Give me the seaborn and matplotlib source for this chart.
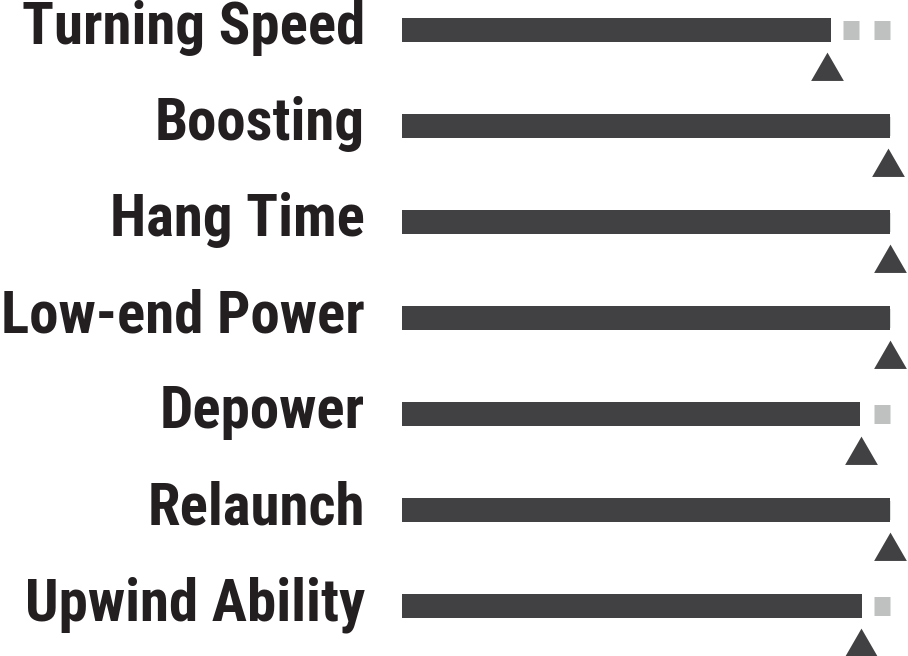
import numpy as np
import pandas as pd
import matplotlib
matplotlib.use("Agg")
import matplotlib.pyplot as plt
from matplotlib import font_manager
import seaborn as sns

# ratings out of 10: bar value and marker (triangle) value
CATEGORIES = ["Turning Speed", "Boosting", "Hang Time", "Low-end Power",
              "Depower", "Relaunch", "Upwind Ability"]
BAR_VALUES = [8.8, 10.0, 10.0, 10.0, 9.38, 10.0, 9.42]
MARKER_VALUES = [8.7, 9.95, 10.0, 10.0, 9.4, 10.0, 9.4]
SCALE_MAX = 10

DARK = "#414042"
LIGHT = "#bfc1c0"
TEXT = "#231f20"

sns.set_style("white")
plt.rcParams["lines.scale_dashes"] = False

# narrowest bold sans that is installed
installed = {f.name for f in font_manager.fontManager.ttflist}
LABEL_FONT = "Liberation Sans"
for cand in ["Roboto Condensed", "Liberation Sans Narrow", "Open Sans Condensed"]:
    if cand in installed:
        LABEL_FONT = cand
        break

W, H, DPI = 908, 656, 100
fig = plt.figure(figsize=(W / DPI, H / DPI), dpi=DPI)

# axes: x=0 at 402px, x=10 at 890px ; rows 96px apart, first row centre at 30px
x0, x10 = 402, 890
px_per_unit = (x10 - x0) / SCALE_MAX
ax = fig.add_axes([x0 / W, 0, (W - x0) / W, 1])
row_px = 96
ytop = -30 / row_px

df = pd.DataFrame({"cat": CATEGORIES, "bar": BAR_VALUES, "mark": MARKER_VALUES})
ypos = np.arange(len(CATEGORIES))

# dashed scale remainder, drawn from the right end so the dashes line up there
for y in ypos:
    ax.plot([SCALE_MAX, 0], [y, y], color=LIGHT, lw=19 * 72 / DPI,
            linestyle=(0, (16 * 72 / DPI, 15 * 72 / DPI)),
            dash_capstyle="butt", zorder=1)

sns.barplot(data=df, x="bar", y="cat", orient="h", color=DARK, width=0.25,
            saturation=1, edgecolor="none", linewidth=0, ax=ax, zorder=2)

sns.scatterplot(x=df["mark"], y=ypos + 0.427, marker=(3, 0, 0), s=740,
                color=DARK, linewidth=0, ax=ax, zorder=3, clip_on=False)

ax.set_xlim(0, (W - x0) / px_per_unit)
ax.set_ylim(ytop + H / row_px, ytop)

# size the labels so the longest one spans the same width as in the original
probe = fig.text(0, 0, "Low-end Power", fontsize=40, fontweight="bold",
                 family=LABEL_FONT)
rend = fig.canvas.get_renderer()
probe_w = probe.get_window_extent(rend).width
probe.remove()
label_size = 40 * 363 / probe_w

label_x = (365 - x0) / px_per_unit
for y, name in zip(ypos, CATEGORIES):
    ax.text(label_x, y + 0.146, name, ha="right", va="baseline",
            fontsize=label_size, fontweight="bold", color=TEXT,
            family=[LABEL_FONT, "DejaVu Sans"], clip_on=False)

ax.set_axis_off()
fig.savefig("out.png", dpi=DPI)
